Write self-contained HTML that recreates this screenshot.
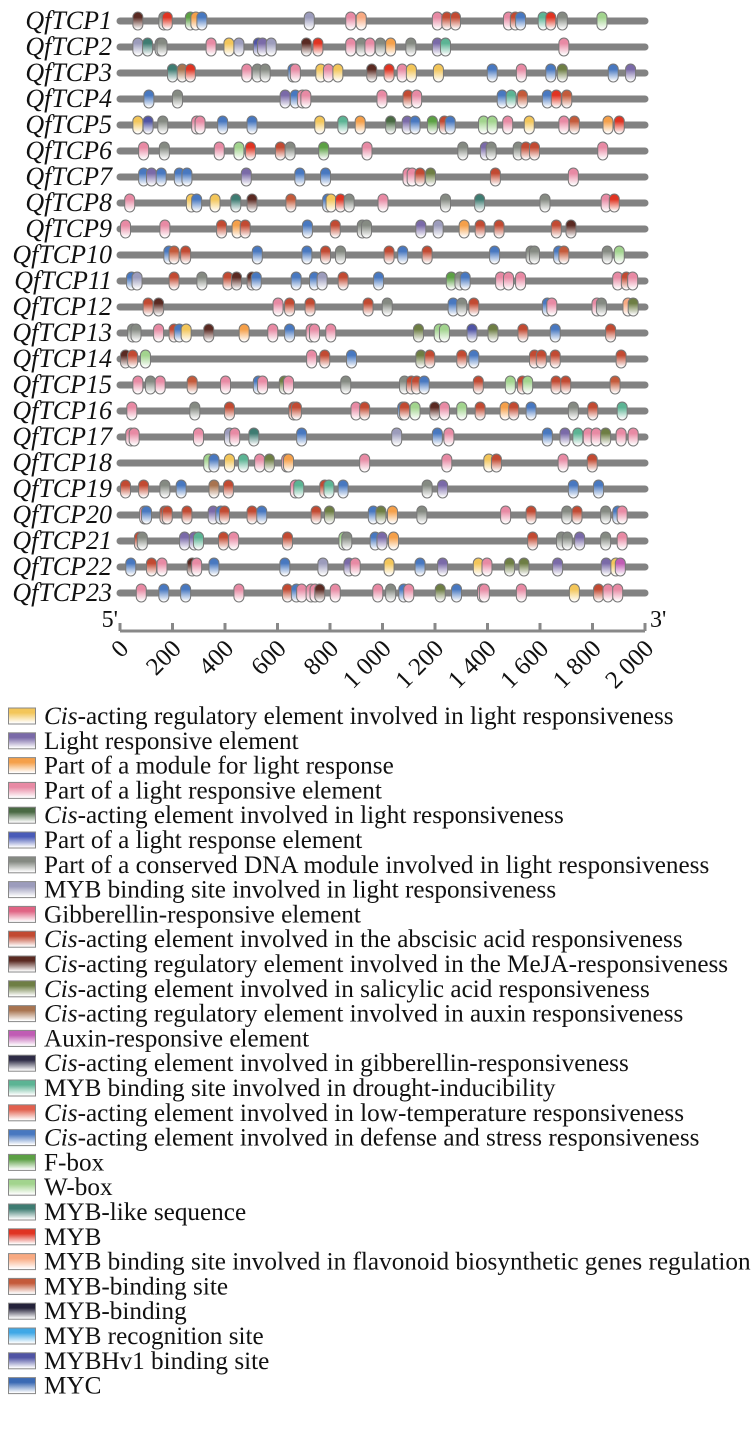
<!DOCTYPE html>
<html><head><meta charset="utf-8"><style>
html,body{margin:0;padding:0;background:#fff;}
svg{display:block;font-family:"Liberation Serif",serif;}
</style></head><body>
<svg id="chart" width="756" height="1431" viewBox="0 0 756 1431" xmlns="http://www.w3.org/2000/svg">
<defs id="defs"></defs>
<g id="rows"></g>
<g id="axis"></g>
<g id="legend"></g>
</svg>
<script>
const genes = ["QfTCP1","QfTCP2","QfTCP3","QfTCP4","QfTCP5","QfTCP6","QfTCP7","QfTCP8","QfTCP9","QfTCP10","QfTCP11","QfTCP12","QfTCP13","QfTCP14","QfTCP15","QfTCP16","QfTCP17","QfTCP18","QfTCP19","QfTCP20","QfTCP21","QfTCP22","QfTCP23"];
const positions = [
[68,167,180,268,289,312,721,879,919,1209,1245,1278,1480,1506,1526,1612,1641,1685,1836],
[68,105,153,160,347,415,453,527,543,576,710,754,879,919,952,992,1031,1108,1209,1240,1691],
[200,237,268,483,523,553,659,668,765,794,830,959,1025,1075,1110,1213,1418,1529,1641,1685,1879,1945],
[110,219,629,668,695,708,998,1097,1130,1456,1490,1533,1628,1662,1702],
[68,107,163,292,305,391,503,761,849,915,1031,1094,1124,1190,1236,1258,1385,1418,1477,1559,1691,1731,1859,1902],
[90,169,378,453,497,611,648,776,941,1306,1392,1414,1517,1546,1579,1839],
[90,120,157,226,255,481,685,783,1097,1113,1143,1183,1430,1727],
[37,272,292,362,441,503,651,791,804,840,873,1002,1240,1370,1619,1852,1883],
[21,171,387,446,477,714,820,923,939,1146,1212,1311,1372,1444,1662,1718],
[186,206,250,523,712,783,840,1025,1077,1170,1427,1566,1579,1671,1691,1856,1902],
[44,65,206,312,411,444,503,519,671,741,770,850,985,1262,1295,1315,1450,1480,1526,1896,1929,1953],
[107,147,602,646,724,945,1018,1269,1302,1348,1628,1645,1817,1834,1935,1955],
[48,61,147,206,226,252,338,473,582,646,728,741,803,1137,1216,1236,1341,1421,1535,1658,1869],
[21,48,97,730,780,882,1146,1180,1302,1348,1579,1605,1658,1909],
[68,116,153,275,402,527,543,626,642,860,1084,1110,1130,1159,1365,1487,1533,1553,1661,1698,1886],
[45,285,417,662,672,899,932,1077,1084,1124,1199,1236,1302,1372,1467,1500,1566,1727,1801,1913],
[41,54,299,417,437,510,692,1054,1209,1253,1628,1695,1744,1784,1814,1850,1909,1955],
[338,358,417,470,532,569,635,642,932,1245,1405,1434,1688,1799],
[21,90,171,233,358,413,668,681,780,796,850,1170,1229,1727,1823],
[94,101,171,180,255,355,384,398,503,540,747,798,965,994,1038,1150,1469,1566,1702,1741,1850,1896,1913],
[74,85,246,283,299,394,433,638,853,864,972,998,1042,1572,1682,1704,1751,1850,1913],
[41,120,160,275,292,358,628,773,872,896,1025,1143,1229,1365,1398,1484,1539,1667,1852,1889,1906],
[81,167,250,453,638,672,692,728,743,761,820,982,1031,1081,1100,1220,1282,1381,1388,1529,1731,1823,1859,1896]
];
const types = [
[10,6,21,18,2,17,7,3,22,3,9,9,3,9,17,15,21,6,19],
[7,20,6,6,3,0,7,26,1,7,10,21,3,6,3,6,2,6,1,15,3],
[20,12,21,3,6,6,17,3,0,3,0,10,21,3,0,0,17,3,17,11,17,1],
[17,6,1,17,3,3,3,9,3,17,15,23,17,21,23],
[0,26,6,3,3,17,17,0,15,2,4,1,17,18,9,17,19,19,3,0,3,23,2,21],
[3,6,3,19,21,9,6,18,3,6,1,6,6,9,9,3],
[17,1,17,17,17,1,17,17,3,3,9,11,9,3],
[3,0,17,0,20,10,23,17,0,21,6,3,6,20,6,3,21],
[3,3,9,2,9,17,9,6,6,1,7,2,9,9,9,10],
[17,23,9,17,17,9,6,9,17,9,17,6,6,17,23,6,19],
[17,7,9,6,9,10,10,17,17,17,7,9,17,18,6,17,3,3,3,3,9,3],
[9,10,3,9,9,9,6,17,6,9,17,3,3,6,22,11],
[6,6,3,9,17,0,10,2,3,17,3,3,3,11,19,19,26,11,9,17,9],
[10,9,19,3,9,17,11,9,9,17,9,9,9,9],
[3,6,3,23,3,17,3,11,3,6,6,9,9,17,9,19,9,19,9,9,23],
[3,6,9,9,9,3,9,17,9,19,10,3,19,9,2,9,17,6,9,15],
[3,3,3,7,3,20,17,7,17,3,17,1,15,3,3,11,3,3],
[19,17,0,15,3,11,3,2,3,3,0,9,3,9],
[9,9,6,17,12,9,3,15,9,15,17,6,1,17,17],
[3,17,9,9,9,1,17,9,9,17,9,11,17,11,2,6,3,9,6,9,6,17,3],
[9,6,1,1,15,9,3,9,19,6,17,1,2,9,6,6,1,6,3],
[17,9,3,10,3,17,17,7,1,3,0,17,1,0,3,11,11,1,1,0,13],
[3,17,17,3,9,17,3,3,3,10,3,3,6,17,3,11,17,3,3,3,0,9,3,3]
];
const tickValues = [0,200,400,600,800,1000,1200,1400,1600,1800,2000];
const tickLabels = ["0","200","400","600","800","1 000","1 200","1 400","1 600","1 800","2 000"];
const legendColors = ["#f3c65a","#7a6aa8","#f5a04a","#e88aa4","#4a6a44","#4a5cb8","#858a82","#9c9cbc","#e06484","#c24a32","#5a2a22","#6e7e44","#a87450","#c05cb4","#2e2c46","#5cb494","#e2604e","#4878c0","#5ca044","#a2d48e","#3e7c72","#e03422","#f8aa82","#c45a3a","#24223a","#40a8e6","#5054a4","#3a6ab4"];
const legendLabels = [
["Cis","-acting regulatory element involved in light responsiveness"],
["","Light responsive element"],
["","Part of a module for light response"],
["","Part of a light responsive element"],
["Cis","-acting element involved in light responsiveness"],
["","Part of a light response element"],
["","Part of a conserved DNA module involved in light responsiveness"],
["","MYB binding site involved in light responsiveness"],
["","Gibberellin-responsive element"],
["Cis","-acting element involved in the abscisic acid responsiveness"],
["Cis","-acting regulatory element involved in the MeJA-responsiveness"],
["Cis","-acting element involved in salicylic acid responsiveness"],
["Cis","-acting regulatory element involved in auxin responsiveness"],
["","Auxin-responsive element"],
["Cis","-acting element involved in gibberellin-responsiveness"],
["","MYB binding site involved in drought-inducibility"],
["Cis","-acting element involved in low-temperature responsiveness"],
["Cis","-acting element involved in defense and stress responsiveness"],
["","F-box"],
["","W-box"],
["","MYB-like sequence"],
["","MYB"],
["","MYB binding site involved in flavonoid biosynthetic genes regulation"],
["","MYB-binding site"],
["","MYB-binding"],
["","MYB recognition site"],
["","MYBHv1 binding site"],
["","MYC"]
];

const NS = "http://www.w3.org/2000/svg";
const X0 = 120, X1 = 645, MAXV = 2000;
const xScale = v => X0 + (v / MAXV) * (X1 - X0);
const rowY = i => 21 + 26 * i;
function mk(tag, attrs, parent){const e=document.createElementNS(NS,tag);for(const k in attrs)e.setAttribute(k,attrs[k]);if(parent)parent.appendChild(e);return e;}

const defs = document.getElementById('defs');
legendColors.forEach((c,i)=>{
  const g = mk('linearGradient',{id:'g'+i,x1:0,y1:0,x2:0,y2:1},defs);
  mk('stop',{offset:'0','stop-color':c},g);
  mk('stop',{offset:'0.3','stop-color':c},g);
  mk('stop',{offset:'0.95','stop-color':'#ffffff'},g);
});

const rows = document.getElementById('rows');
genes.forEach((name,i)=>{
  const y = rowY(i);
  const g = mk('g',{},rows);
  
  
  const t = mk('text',{x:112,y:y+8,'text-anchor':'end','font-size':'26','font-style':'italic',fill:'#111'},g);
  t.textContent = name;
  
  
  const ln = mk('line',{x1:X0,y1:y,x2:X1,y2:y,stroke:'#828282','stroke-width':7,'stroke-linecap':'round'},g);
  
  
  positions[i].forEach((v,j)=>{
    const r = mk('rect',{x:xScale(v)-5,y:y-9,width:10,height:18,rx:5,ry:5,fill:'url(#g'+types[i][j]+')',stroke:'#777','stroke-width':1},g);
    
    
  });
});

const axis = document.getElementById('axis');


mk('line',{x1:X0,y1:631,x2:X1,y2:631,stroke:'#888','stroke-width':3},axis);
tickValues.forEach((v,i)=>{
  const x = xScale(v);
  const tk = mk('line',{x1:x,y1:631,x2:x,y2:623,stroke:'#888','stroke-width':3},axis);
  
  
  const t = mk('text',{x:x+10,y:650,'text-anchor':'end','font-size':'25',fill:'#111',transform:'rotate(-45 '+(x+10)+' 650)'},axis);
  t.textContent = tickLabels[i];
  
  
});
const t5 = mk('text',{x:118,y:627,'text-anchor':'end','font-size':'24',fill:'#111'},axis);
t5.textContent = "5'";


const t3 = mk('text',{x:650,y:627,'font-size':'24',fill:'#111'},axis);
t3.textContent = "3'";



const legend = document.getElementById('legend');


legendLabels.forEach((lab,i)=>{
  const cy = 716 + 24.8 * i;
  const g = mk('g',{},legend);
  
  
  mk('rect',{x:8.5,y:cy-8,width:27,height:16,fill:'url(#g'+i+')',stroke:'#888','stroke-width':1},g);
  const t = mk('text',{x:44,y:cy+8,'font-size':'25.2',fill:'#111'},g);
  if(lab[0]){const s=mk('tspan',{'font-style':'italic'},t);s.textContent=lab[0];}
  const s2=mk('tspan',{},t);s2.textContent=lab[1];
});
</script>
</body></html>
